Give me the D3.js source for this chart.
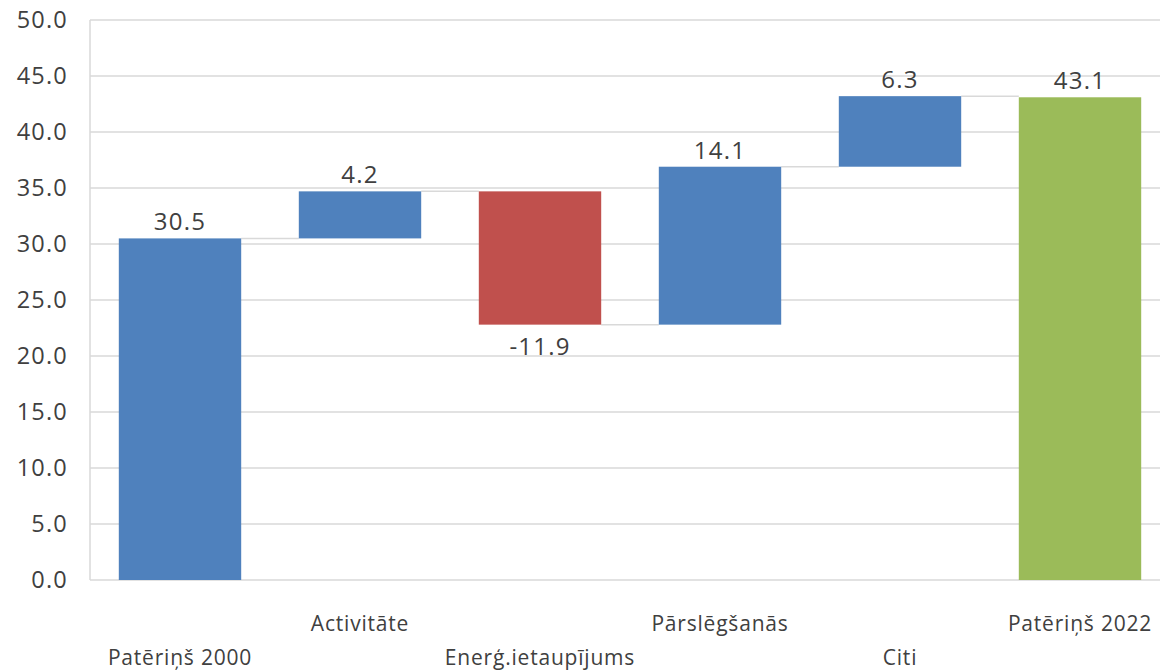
<!DOCTYPE html>
<html>
<head>
<meta charset="utf-8">
<title>Patēriņš 2000-2022</title>
<script src="https://cdn.jsdelivr.net/npm/d3@7/dist/d3.min.js"></script>
<style>
  body { margin: 0; background: #fff; }
  text { font-family: "Open Sans", "Noto Sans", sans-serif; fill: #404040; }
</style>
</head>
<body>
<svg width="1167" height="670"></svg>
<script>
// data
var categories = ["Patēriņš 2000", "Activitāte", "Enerģ.ietaupījums", "Pārslēgšanās", "Citi", "Patēriņš 2022"];
var values = [30.5, 4.2, -11.9, 14.1, 6.3, 43.1];
var kinds = ["total", "delta", "delta", "delta", "delta", "total"];
var yTicks = [0, 5, 10, 15, 20, 25, 30, 35, 40, 45, 50];

var colors = { total0: "#4F81BD", up: "#4F81BD", down: "#C0504D", total1: "#9BBB59" };

var svg = d3.select("svg");
var marge = { top: 20, left: 90, right: -3, bottom: 90 };
var width = +svg.attr("width"), height = +svg.attr("height");

// plain hyphen for negatives, like the original
var fmt = d3.formatLocale({ decimal: ".", thousands: ",", grouping: [3], currency: ["", ""], minus: "-" }).format(".1f");

// build waterfall start/end from the values
var run = 0;
var bars = values.map(function (v, i) {
  var b = { name: categories[i], value: v, i: i };
  if (kinds[i] === "total") { b.y0 = 0; b.y1 = v; run = v; }
  else { b.y0 = run; b.y1 = run + v; run = run + v; }
  return b;
});

var x = d3.scaleBand()
  .domain(categories)
  .range([marge.left, width - marge.right])
  .paddingInner(0.32)
  .paddingOuter(0.16);

var y = d3.scaleLinear()
  .domain([0, 50])
  .range([height - marge.bottom, marge.top]);

/* gridlines */
svg.append("g")
  .selectAll("line")
  .data(yTicks)
  .enter()
  .append("line")
  .attr("x1", marge.left)
  .attr("x2", width - 7)
  .attr("y1", function (d) { return y(d); })
  .attr("y2", function (d) { return y(d); })
  .attr("stroke", "#D9D9D9")
  .attr("stroke-width", 1.5);

svg.append("line")
  .attr("x1", marge.left).attr("x2", marge.left)
  .attr("y1", y(50)).attr("y2", y(0))
  .attr("stroke", "#D9D9D9")
  .attr("stroke-width", 1.5);

/* y axis labels */
var yAxis = d3.axisLeft(y)
  .tickValues(yTicks)
  .tickFormat(fmt)
  .tickSize(0)
  .tickPadding(22);
var gy = svg.append("g")
  .attr("transform", "translate(" + marge.left + ",0)")
  .call(yAxis);
gy.select(".domain").remove();
gy.selectAll("text")
  .attr("font-size", 23.5)
  .attr("letter-spacing", 1.2)
  .attr("font-family", "Open Sans")
  .attr("fill", "#595959");

/* connectors */
svg.append("g")
  .selectAll("line")
  .data(bars.slice(0, bars.length - 1))
  .enter()
  .append("line")
  .attr("x1", function (d) { return x(d.name) + x.bandwidth(); })
  .attr("x2", function (d) { return x(categories[d.i + 1]); })
  .attr("y1", function (d) { return y(d.y1); })
  .attr("y2", function (d) { return y(d.y1); })
  .attr("stroke", "#D9D9D9")
  .attr("stroke-width", 1.5);

/* bars */
svg.append("g")
  .selectAll("rect")
  .data(bars)
  .enter()
  .append("rect")
  .attr("x", function (d) { return x(d.name); })
  .attr("width", x.bandwidth())
  .attr("y", function (d) { return y(Math.max(d.y0, d.y1)); })
  .attr("height", function (d) { return Math.abs(y(d.y0) - y(d.y1)); })
  .attr("fill", function (d) {
    if (d.i === bars.length - 1) return colors.total1;
    if (kinds[d.i] === "total") return colors.total0;
    return d.value < 0 ? colors.down : colors.up;
  });

/* value labels */
svg.append("g")
  .selectAll("text")
  .data(bars)
  .enter()
  .append("text")
  .attr("x", function (d) { return x(d.name) + x.bandwidth() / 2; })
  .attr("y", function (d) {
    return d.value < 0 ? y(d.y1) + 30 : y(Math.max(d.y0, d.y1)) - 8;
  })
  .attr("text-anchor", "middle")
  .attr("font-size", 24)
  .attr("letter-spacing", 1.2)
  .text(function (d) { return fmt(d.value); });

/* category labels, staggered */
svg.append("g")
  .selectAll("text")
  .data(categories)
  .enter()
  .append("text")
  .attr("x", function (d) { return x(d) + x.bandwidth() / 2; })
  .attr("y", function (d, i) { return i % 2 === 0 ? 665 : 631; })
  .attr("text-anchor", "middle")
  .attr("font-size", 21)
  .attr("letter-spacing", 0.8)
  .attr("fill", "#404040")
  .text(function (d) { return d; });
</script>
</body>
</html>
